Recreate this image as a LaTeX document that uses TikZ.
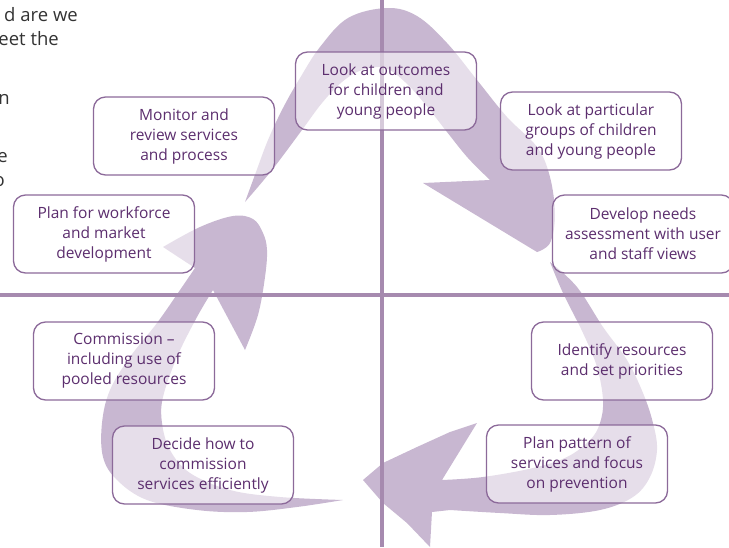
\documentclass[tikz,border=0pt]{standalone}
\usepackage{fontspec}
\setmainfont{Open Sans}
\usepackage{tikz}
\usetikzlibrary{positioning,calc}
\definecolor{swooshfill}{HTML}{C8B7D1}
\definecolor{axisline}{HTML}{A68AAF}
\definecolor{boxline}{HTML}{8C6A9A}
\definecolor{boxtext}{HTML}{5C2E6E}
\definecolor{bodytext}{HTML}{333333}

\begin{document}
\begin{tikzpicture}[x=1pt,y=-1pt,
    swoosh/.style={fill=swooshfill},
    axis/.style={draw=axisline, line width=4pt},
    stage/.style={draw=boxline, line width=1.3pt, rounded corners=12pt, fill=white, fill opacity=0.55, text opacity=1, draw opacity=1,
        minimum width=181pt, minimum height=78pt, align=center, text=boxtext, font=\fontsize{15.5}{20}\selectfont},
    fragment/.style={anchor=base east, inner sep=0pt, text=bodytext, font=\fontsize{18.5}{24}\selectfont}]
    \useasboundingbox (0,0) rectangle (729,547);
    % cut-off paragraph at the left margin
    \node[fragment] (frag1) at (78,21) {d are we};
    \node[fragment] (frag2) at (59,45) {eet the};
    \node[fragment] (frag3) at (10,104) {n};
    \node[fragment] (frag4) at (8,162) {e};
    \node[fragment] (frag5) at (5,186) {o};
    % the three swooshes
    \fill[swoosh] plot[smooth, tension=.6] coordinates {(245,202) (256,172) (268,140) (283,108) (300,78) (320,47) (348,18) (387,8) (417,16) (447,43) (477,80) (507,117) (537,147) (550,177) (555,215) (550,243) (537,252)}
        -- (423,183) -- (490,180)
        -- plot[smooth, tension=.6] coordinates {(490,180) (468,158) (447,132) (425,104) (405,82) (385,68) (362,70) (342,82) (322,103) (302,130) (272,170) (245,202)} -- cycle;
    \fill[swoosh] plot[smooth, tension=.6] coordinates {(550,262) (577,287) (603,327) (627,360) (643,393) (653,423) (657,450) (650,477) (633,497) (600,510) (550,515) (500,513) (450,510)}
        -- (432,512) -- (430,547) -- (407,523) -- (383,503) -- (363,480) -- (383,463) -- (417,447) -- (450,432) -- (477,423) -- (442,480)
        -- plot[smooth, tension=.6] coordinates {(442,480) (483,477) (533,468) (567,457) (590,440) (600,423) (603,400) (597,367) (583,333) (563,293) (550,262)} -- cycle;
    \fill[swoosh] plot[smooth, tension=.6] coordinates {(343,500) (297,507) (247,512) (197,510) (147,500) (117,480) (103,457) (102,423) (110,390) (130,357) (157,323) (180,290) (195,268)}
        -- (163,247)
        -- plot[smooth, tension=.6] coordinates {(163,247) (200,227) (233,216) (253,219) (263,233) (267,250) (265,277) (258,315) (245,350)}
        -- (213,290)
        -- plot[smooth, tension=.6] coordinates {(213,290) (197,317) (177,357) (163,397) (162,423) (170,450) (190,473) (230,490) (280,497) (343,500)} -- cycle;
    % quadrant lines
    \coordinate (top) at (382,0);
    \coordinate (bottom) at (382,547);
    \coordinate (left) at (0,295);
    \coordinate (right) at (729,295);
    \draw[axis] (top) -- (bottom);
    \draw[axis] (left) -- (right);
    % stages of the cycle
    \node[stage] (outcomes) at (386,91) {Look at outcomes\\for children and\\young people};
    \node[stage] (groups) at (591,131) {Look at particular\\groups of children\\and young people};
    \node[stage] (needs) at (643,234) {Develop needs\\assessment with user\\and staff views};
    \node[stage] (resources) at (622,361) {Identify resources\\and set priorities};
    \node[stage] (pattern) at (577,464) {Plan pattern of\\services and focus\\on prevention};
    \node[stage] (decide) at (203,465) {Decide how to\\commission\\services efficiently};
    \node[stage] (commission) at (124,361) {Commission –\\including use of\\pooled resources};
    \node[stage] (workforce) at (104,234) {Plan for workforce\\and market\\development};
    \node[stage] (monitor) at (184,136) {Monitor and\\review services\\and process};
\end{tikzpicture}
\end{document}
